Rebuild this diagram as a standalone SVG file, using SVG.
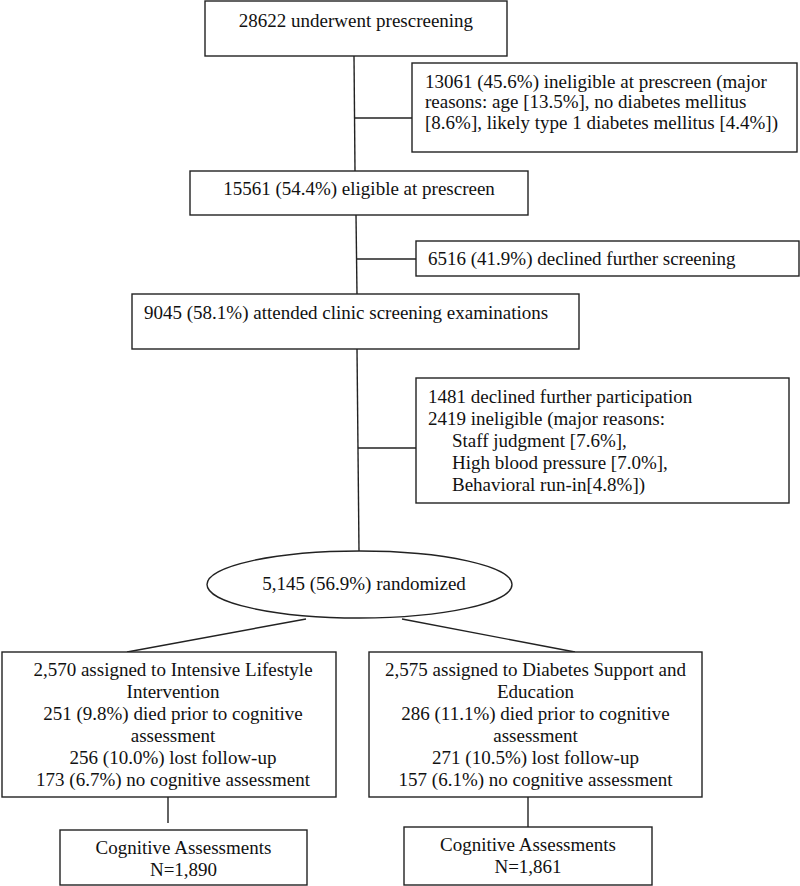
<svg xmlns="http://www.w3.org/2000/svg" width="800" height="886" viewBox="0 0 800 886">
<style>
.b{fill:#fff;stroke:#222;stroke-width:1.4}
.c{fill:none;stroke:#222;stroke-width:1.4}
text{font-family:"Liberation Serif","Times New Roman",serif;font-size:19px;fill:#111}
.m{text-anchor:middle}
</style>
<rect width="800" height="886" fill="#fff"/>
<g id="connectors">
<line class="c" x1="354" y1="56" x2="355" y2="171"/>
<line class="c" x1="354" y1="118" x2="412" y2="118"/>
<line class="c" x1="356" y1="215" x2="357" y2="294"/>
<line class="c" x1="357" y1="259" x2="416" y2="259"/>
<line class="c" x1="357" y1="349" x2="359" y2="551"/>
<line class="c" x1="358" y1="448" x2="416" y2="448"/>
<line class="c" x1="306" y1="619" x2="127" y2="652"/>
<line class="c" x1="402" y1="619" x2="575" y2="652"/>
<line class="c" x1="168" y1="797" x2="168" y2="823"/>
<line class="c" x1="528" y1="797" x2="528" y2="827"/>
</g>
<g id="n1">
<rect class="b" x="205" y="1" width="302" height="55"/>
<text class="m" x="356" y="27">28622 underwent prescreening</text>
</g>
<g id="n2">
<rect class="b" x="412" y="63" width="385" height="89"/>
<text x="425" y="88">13061 (45.6%) ineligible at prescreen (major</text>
<text x="425" y="108">reasons: age [13.5%], no diabetes mellitus</text>
<text x="425" y="129">[8.6%], likely type 1 diabetes mellitus [4.4%])</text>
</g>
<g id="n3">
<rect class="b" x="190" y="171" width="338" height="44"/>
<text class="m" x="359" y="195">15561 (54.4%) eligible at prescreen</text>
</g>
<g id="n4">
<rect class="b" x="416" y="241" width="383" height="35"/>
<text x="428" y="265">6516 (41.9%) declined further screening</text>
</g>
<g id="n5">
<rect class="b" x="132" y="294" width="447" height="55"/>
<text x="144" y="319">9045 (58.1%) attended clinic screening examinations</text>
</g>
<g id="n6">
<rect class="b" x="416" y="378" width="373" height="125"/>
<text x="428" y="403">1481 declined further participation</text>
<text x="428" y="425">2419 ineligible (major reasons:</text>
<text x="452" y="447">Staff judgment [7.6%],</text>
<text x="452" y="469">High blood pressure [7.0%],</text>
<text x="452" y="491">Behavioral run-in[4.8%])</text>
</g>
<g id="n7">
<ellipse class="b" cx="359.5" cy="584.5" rx="152.5" ry="33.5"/>
<text class="m" x="364" y="590">5,145 (56.9%) randomized</text>
</g>
<g id="n8">
<rect class="b" x="2" y="652" width="334" height="145"/>
<text class="m" x="173" y="676">2,570 assigned to Intensive Lifestyle</text>
<text class="m" x="173" y="698">Intervention</text>
<text class="m" x="173" y="720">251 (9.8%) died prior to cognitive</text>
<text class="m" x="173" y="742">assessment</text>
<text class="m" x="173" y="764">256 (10.0%) lost follow-up</text>
<text class="m" x="173" y="786">173 (6.7%) no cognitive assessment</text>
</g>
<g id="n9">
<rect class="b" x="369" y="652" width="333" height="145"/>
<text class="m" x="535.5" y="676">2,575 assigned to Diabetes Support and</text>
<text class="m" x="535.5" y="698">Education</text>
<text class="m" x="535.5" y="720">286 (11.1%) died prior to cognitive</text>
<text class="m" x="535.5" y="742">assessment</text>
<text class="m" x="535.5" y="764">271 (10.5%) lost follow-up</text>
<text class="m" x="535.5" y="786">157 (6.1%) no cognitive assessment</text>
</g>
<g id="n10">
<rect class="b" x="60" y="830" width="247" height="55"/>
<text class="m" x="183.5" y="854">Cognitive Assessments</text>
<text class="m" x="183.5" y="876">N=1,890</text>
</g>
<g id="n11">
<rect class="b" x="404" y="827" width="248" height="58"/>
<text class="m" x="528" y="851">Cognitive Assessments</text>
<text class="m" x="528" y="873">N=1,861</text>
</g>
</svg>
